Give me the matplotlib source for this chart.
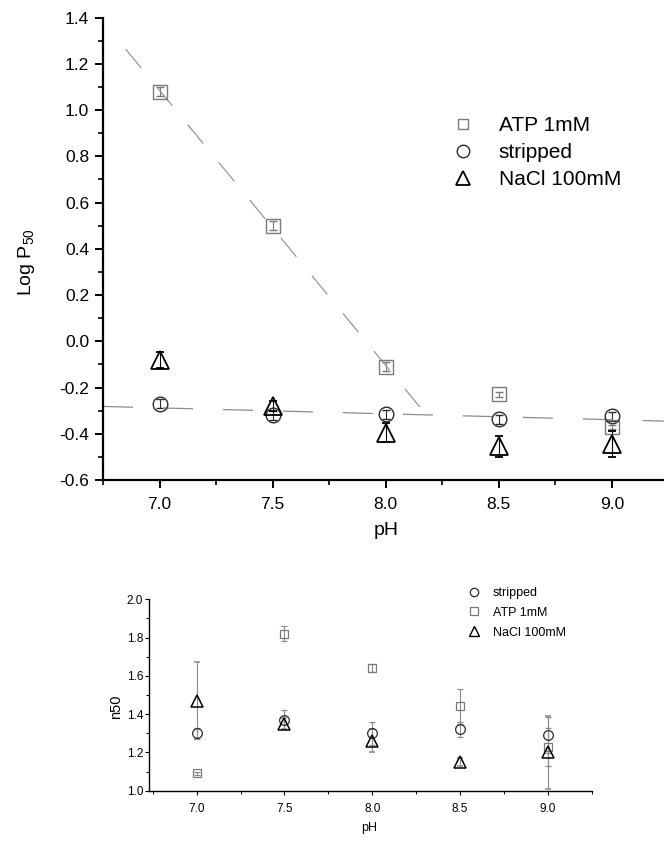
import numpy as np
import matplotlib
matplotlib.use("Agg")
import matplotlib.pyplot as plt
from matplotlib.lines import Line2D
from matplotlib.ticker import MultipleLocator

plt.rcParams['font.family'] = ['Liberation Sans', 'DejaVu Sans']
plt.rcParams['mathtext.fontset'] = 'custom'
plt.rcParams['mathtext.rm'] = 'Liberation Sans'

# data
ph = [7.0, 7.5, 8.0, 8.5, 9.0]

# top panel: Log P50
logp_atp = [1.08, 0.50, -0.11, -0.23, -0.37]
logp_atp_err = [0.02, 0.02, 0.02, 0.01, 0.01]
logp_stripped = [-0.27, -0.32, -0.316, -0.338, -0.325]
logp_stripped_err = [0.02, 0.02, 0.02, 0.02, 0.02]
logp_nacl = [-0.08, -0.28, -0.395, -0.455, -0.443]
logp_nacl_err = [0.035, 0.02, 0.04, 0.045, 0.057]

# bottom panel: n50
n50_stripped = [1.30, 1.37, 1.30, 1.32, 1.29]
n50_stripped_err = [0.03, 0.05, 0.06, 0.04, 0.095]
n50_atp = [1.09, 1.82, 1.64, 1.44, 1.23]
n50_atp_err = [0.01, 0.04, 0.02, 0.09, 0.10]
n50_nacl = [1.47, 1.35, 1.26, 1.15, 1.20]
n50_nacl_err = [0.20, 0.03, 0.06, 0.02, 0.19]

sq_col = '#7a7a7a'
ci_col = '#2b2b2b'
tr_col = 'black'
fit_col = '#8c8c8c'

fig = plt.figure(figsize=(6.64, 8.43), dpi=100)

# ---------------- top panel ----------------
ax = fig.add_axes([103 / 664, 1 - 480 / 843, 561 / 664, 462.5 / 843])

ax.errorbar(ph, logp_atp, yerr=logp_atp_err, fmt='s', ms=9.5, mfc='none',
            mec=sq_col, mew=1.0, ecolor=sq_col, elinewidth=0.8, capsize=3, capthick=0.8)
ax.errorbar(ph, logp_stripped, yerr=logp_stripped_err, fmt='o', ms=10.5, mfc='none',
            mec=ci_col, mew=1.0, ecolor=ci_col, elinewidth=0.8, capsize=3, capthick=0.8)
ax.errorbar(ph, logp_nacl, yerr=logp_nacl_err, fmt='^', ms=13, mfc='none',
            mec=tr_col, mew=1.3, ecolor=tr_col, elinewidth=0.8, capsize=3, capthick=0.8)

# linear fits
k1, b1 = np.polyfit(ph[:3], logp_atp[:3], 1)
xf1 = np.array([6.85, 8.15])
ax.plot(xf1, k1 * xf1 + b1, color=fit_col, lw=0.8, ls=(0, (22, 22)))
k2, b2 = np.polyfit(ph, logp_stripped, 1)
xf2 = np.array([6.75, 9.25])
ax.plot(xf2, k2 * xf2 + b2, color=fit_col, lw=0.9, ls=(0, (24, 24)))

ax.set_xlim(6.75, 9.23)
ax.set_ylim(-0.6, 1.4)
ax.xaxis.set_major_locator(MultipleLocator(0.5))
ax.xaxis.set_minor_locator(MultipleLocator(0.25))
ax.yaxis.set_major_locator(MultipleLocator(0.2))
ax.yaxis.set_minor_locator(MultipleLocator(0.1))
ax.set_xticks(ph)
ax.set_xticklabels(['7.0', '7.5', '8.0', '8.5', '9.0'])
ax.set_yticklabels([f'{v:.1f}' for v in ax.get_yticks()])
for s in ['top', 'right']:
    ax.spines[s].set_visible(False)
for s in ['left', 'bottom']:
    ax.spines[s].set_linewidth(1.6)
ax.tick_params(which='major', direction='out', length=6, width=1.4, labelsize=12.5, pad=4)
ax.tick_params(axis='x', which='major', pad=6)
ax.tick_params(which='minor', direction='out', length=3.5, width=1.2)
ax.set_xlabel('pH', fontsize=14)
ax.xaxis.set_label_coords(0.505, -0.09)
ax.set_ylabel(r'Log P$\mathregular{_{50}}$', fontsize=14)
ax.yaxis.set_label_coords(-0.118, 0.47)

h_top = [Line2D([], [], ls='none', marker='s', ms=7.5, mfc='none', mec=sq_col, mew=1.0),
         Line2D([], [], ls='none', marker='o', ms=9, mfc='none', mec=ci_col, mew=1.0),
         Line2D([], [], ls='none', marker='^', ms=10.5, mfc='none', mec=tr_col, mew=1.3)]
fig.legend(h_top, ['ATP 1mM', 'stripped', 'NaCl 100mM'], loc='upper left',
           bbox_to_anchor=(453 / 664, 1 - 116 / 843), bbox_transform=fig.transFigure,
           frameon=False, fontsize=15, borderpad=0, handlelength=1.0,
           handletextpad=1.2, labelspacing=0.38, borderaxespad=0)

# ---------------- bottom panel ----------------
bx = fig.add_axes([149.3 / 664, 1 - 790.7 / 843, 442.4 / 664, 191.4 / 843])

bx.errorbar(ph, n50_stripped, yerr=n50_stripped_err, fmt='o', ms=7, mfc='none',
            mec=ci_col, mew=0.9, ecolor='#8a8a8a', elinewidth=0.8, capsize=2, capthick=0.8)
bx.errorbar(ph, n50_atp, yerr=n50_atp_err, fmt='s', ms=6, mfc='none',
            mec=sq_col, mew=0.9, ecolor='#8a8a8a', elinewidth=0.8, capsize=2, capthick=0.8)
bx.errorbar(ph, n50_nacl, yerr=n50_nacl_err, fmt='^', ms=8.5, mfc='none',
            mec=tr_col, mew=1.1, ecolor='#8a8a8a', elinewidth=0.8, capsize=2, capthick=0.8)

bx.set_xlim(6.73, 9.25)
bx.set_ylim(1.0, 2.0)
bx.set_xticks(ph)
bx.set_xticklabels(['7.0', '7.5', '8.0', '8.5', '9.0'])
bx.xaxis.set_minor_locator(MultipleLocator(0.25))
bx.yaxis.set_major_locator(MultipleLocator(0.2))
bx.yaxis.set_minor_locator(MultipleLocator(0.1))
bx.set_yticklabels([f'{v:.1f}' for v in bx.get_yticks()])
for s in ['top', 'right']:
    bx.spines[s].set_visible(False)
for s in ['left', 'bottom']:
    bx.spines[s].set_linewidth(1.0)
bx.tick_params(which='major', direction='out', length=3, width=0.8, labelsize=8.5)
bx.tick_params(axis='x', which='major', pad=6)
bx.tick_params(axis='y', which='major', pad=1.5)
bx.tick_params(which='minor', direction='out', length=2, width=0.7)
bx.set_xlabel('pH', fontsize=9)
bx.xaxis.set_label_coords(0.497, -0.165)
bx.set_ylabel('n50', fontsize=10.5)
bx.yaxis.set_label_coords(-0.06, 0.44)

h_bot = [Line2D([], [], ls='none', marker='o', ms=6, mfc='none', mec=ci_col, mew=0.9),
         Line2D([], [], ls='none', marker='s', ms=5.5, mfc='none', mec=sq_col, mew=0.9),
         Line2D([], [], ls='none', marker='^', ms=6.5, mfc='none', mec=tr_col, mew=1.0)]
fig.legend(h_bot, ['stripped', 'ATP 1mM', 'NaCl 100mM'], loc='upper left',
           bbox_to_anchor=(468 / 664, 1 - 587 / 843), bbox_transform=fig.transFigure,
           frameon=False, fontsize=9, borderpad=0, handlelength=1.0,
           handletextpad=1.0, labelspacing=0.62, borderaxespad=0)

fig.savefig('out.png', dpi=100)
